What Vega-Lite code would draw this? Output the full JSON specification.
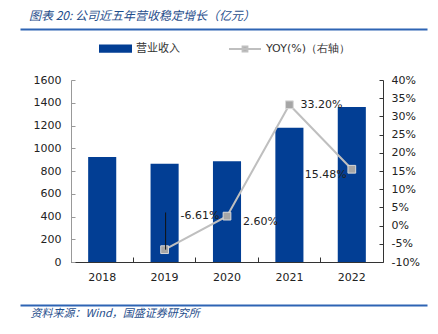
{
  "$schema": "https://vega.github.io/schema/vega-lite/v6.json",
  "width": 312,
  "height": 182,
  "autosize": {"type": "none"},
  "padding": {"left": 71, "top": 80, "right": 55, "bottom": 72},
  "background": "white",
  "config": {
    "view": {"stroke": null},
    "font": "DejaVu Sans",
    "axis": {"labelFont": "DejaVu Sans", "labelFontSize": 11, "labelColor": "#222", "grid": false}
  },
  "title": {
    "text": "图表 20:  公司近五年营收稳定增长（亿元）",
    "anchor": "start",
    "frame": "group",
    "font": "Noto Sans CJK SC",
    "fontSize": 12,
    "fontStyle": "italic",
    "fontWeight": "normal",
    "color": "#1F4E8C",
    "dx": -42,
    "dy": -2
  },
  "data": {
    "values": [
      {"year": "2018", "rev": 924, "yoy": null},
      {"year": "2019", "rev": 863, "yoy": -0.0661},
      {"year": "2020", "rev": 886, "yoy": 0.026},
      {"year": "2021", "rev": 1180, "yoy": 0.332},
      {"year": "2022", "rev": 1362, "yoy": 0.1548}
    ]
  },
  "layer": [
    {
      "layer": [
        {
          "mark": {"type": "bar", "width": {"band": 0.45}},
          "encoding": {
            "x": {
              "field": "year", "type": "nominal", "sort": null,
              "scale": {"type": "band", "paddingInner": 0, "paddingOuter": 0},
              "axis": {
                "orient": "bottom",
                "title": "资料来源：Wind，国盛证券研究所",
                "titleFont": "Noto Sans CJK SC",
                "titleFontSize": 11,
                "titleFontStyle": "italic",
                "titleFontWeight": "normal",
                "titleColor": "#1F4E8C",
                "titleAnchor": "start",
                "titleAlign": "left",
                "titleBaseline": "middle",
                "titleX": -41,
                "titleY": 51,
                "labelAngle": 0,
                "bandPosition": 0,
                "tickSize": -5,
                "labelPadding": 14,
                "domainColor": "#333",
                "tickColor": "#333"
              }
            },
            "y": {
              "field": "rev", "type": "quantitative",
              "scale": {"domain": [0, 1600]},
              "axis": {
                "title": null,
                "format": "d",
                "values": [0, 200, 400, 600, 800, 1000, 1200, 1400, 1600],
                "tickSize": -4,
                "labelPadding": 14,
                "domainColor": "#999",
                "tickColor": "#999"
              }
            },
            "fill": {
              "datum": "营业收入",
              "scale": {"range": ["#023E94"]},
              "legend": {
                "title": null,
                "orient": "none",
                "legendX": 28,
                "legendY": -48,
                "symbolType": "M-1,-0.25H1V0.25H-1Z",
                "symbolSize": 1089,
                "symbolStrokeWidth": 0,
                "labelFont": "Noto Sans CJK SC",
                "labelFontSize": 11,
                "labelColor": "#333",
                "labelOffset": 4
              }
            }
          }
        },
        {
          "transform": [{"filter": "datum.yoy != null"}],
          "encoding": {
            "x": {"field": "year", "type": "nominal", "sort": null},
            "y": {
              "field": "yoy", "type": "quantitative",
              "scale": {"domain": [-0.1, 0.4]},
              "axis": {
                "title": null,
                "orient": "right",
                "format": ".0%",
                "labelExpr": "replace(datum.label, '\u2212', '-')",
                "values": [-0.1, -0.05, 0, 0.05, 0.1, 0.15, 0.2, 0.25, 0.3, 0.35, 0.4],
                "tickSize": -4,
                "labelPadding": 12,
                "domainColor": "#333",
                "tickColor": "#333"
              }
            }
          },
          "layer": [
            {
              "mark": {"type": "line", "strokeWidth": 2},
              "encoding": {
                "stroke": {
                  "datum": "YOY(%)（右轴）",
                  "scale": {"range": ["#BFBFBF"]},
                  "legend": {
                    "title": null,
                    "orient": "none",
                    "legendX": 157,
                    "legendY": -48,
                    "symbolType": "M-1,0H1M-0.15,-0.15H0.15V0.15H-0.15Z",
                    "symbolSize": 1024,
                    "symbolStrokeWidth": 2,
                    "symbolFillColor": "#A6A6A6",
                    "labelFont": "DejaVu Sans",
                    "labelFontSize": 11,
                    "labelColor": "#333",
                    "labelOffset": 4
                  }
                }
              }
            },
            {
              "mark": {"type": "point", "shape": "square", "size": 60, "filled": true, "fill": "#A6A6A6", "stroke": "#D9D9D9", "strokeWidth": 1, "opacity": 1}
            },
            {
              "transform": [{"filter": "datum.year == '2019'"}],
              "mark": {"type": "rule", "color": "#111", "strokeWidth": 1, "xOffset": 1},
              "encoding": {"y2": {"datum": 0.036}}
            },
            {
              "transform": [{"filter": "datum.year == '2019'"}],
              "mark": {"type": "text", "align": "left", "baseline": "middle", "dx": 16, "dy": -34, "fontSize": 11, "color": "#222", "font": "DejaVu Sans", "text": {"expr": "replace(format(datum.yoy, '.2%'), '\u2212', '-')"}}
            },
            {
              "transform": [{"filter": "datum.year == '2020'"}],
              "mark": {"type": "text", "align": "left", "baseline": "middle", "dx": 16, "dy": 6, "fontSize": 11, "color": "#222", "font": "DejaVu Sans", "text": {"expr": "format(datum.yoy, '.2%')"}}
            },
            {
              "transform": [{"filter": "datum.year == '2021'"}],
              "mark": {"type": "text", "align": "left", "baseline": "middle", "dx": 11, "dy": 0, "fontSize": 11, "color": "#222", "font": "DejaVu Sans", "text": {"expr": "format(datum.yoy, '.2%')"}}
            },
            {
              "transform": [{"filter": "datum.year == '2022'"}],
              "mark": {"type": "text", "align": "right", "baseline": "middle", "dx": -5, "dy": 6, "fontSize": 11, "color": "#222", "font": "DejaVu Sans", "text": {"expr": "format(datum.yoy, '.2%')"}}
            }
          ]
        }
      ],
      "resolve": {"scale": {"y": "independent"}, "axis": {"y": "independent"}}
    },
    {
      "mark": {"type": "rule", "strokeWidth": 0, "color": "white"},
      "encoding": {
        "x": {
          "datum": 0.5, "type": "quantitative",
          "scale": {"domain": [0, 1], "range": [-51, 356]},
          "axis": {"orient": "top", "offset": 51, "title": null, "values": [], "domainColor": "#2E64B4", "domainWidth": 2}
        }
      }
    },
    {
      "mark": {"type": "rule", "strokeWidth": 0, "color": "white"},
      "encoding": {
        "x": {
          "datum": 0.5, "type": "quantitative",
          "scale": {"domain": [0, 1], "range": [-51, 356]},
          "axis": {"orient": "bottom", "offset": 43, "title": null, "values": [], "domainColor": "#2E64B4", "domainWidth": 2}
        }
      }
    }
  ],
  "resolve": {"scale": {"x": "independent"}, "axis": {"x": "independent"}}
}
